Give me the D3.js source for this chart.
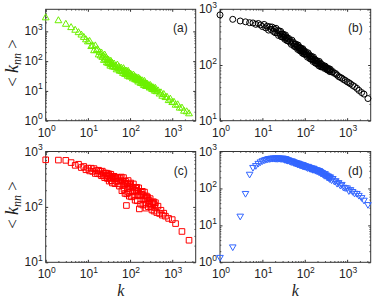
<!DOCTYPE html>
<html>
<head>
<meta charset="utf-8">
<script src="https://cdn.jsdelivr.net/npm/d3@7"></script>
<style>
  body { margin: 0; background: #fff; }
  svg { display: block; }
  text { font-family: "Liberation Sans", Arial, sans-serif; fill: #222; }
</style>
</head>
<body>
<div id="chart"></div>
<script>
// degree k shared by the four panels (null = no point at that k)
const degrees = [1,2,3,4,5,6,7,8,9,10, 11,12,13,14,15,16,17,18,19,20,
  21,22,23,24,25,26,27,28,29,30, 31,32,33,34,35,36,37,38,39,40,
  42,44,46,48,50,52,54,56,58,60, 62,64,66,68,70,72,74,76,78,80,
  82,84,86,88,90,92,94,96,98,100,
  104,108,112,116,120,124,128,132,136,140,144,148,152,156,160,
  166,172,178,184,190,196,202,208,214,220,226,232,238,244,250,
  260,270,280,290,300,310,320,330,340,350,360,370,380,390,400,
  430,460,500,540,580,630,690,750,820,900,
  1000,1100,1200,1350,1500,1700,1900,2200,2500,3100];

const knnA = [3000,2400,1820,1410,1150,955,794,661,550,468,
  484,326,344,236,343,238,258,171,209,157,
  198,141,157,112,169,122,136,93,117,90,
  113,86,94,72,105,81,91,68,83,68,
  84,64,71,54,78,60,67,49,60,49,
  61,47,53,41,59,46,51,38,47,38,
  48,37,42,33,48,37,42,31,39,32,
  38,31,34,27,36,29,32,25,29,25,29,24,26,21,28,
  23,25,19,23,19,23,18,20,16,22,18,19,15,18,15,
  17.5,14.8,15.6,13.2,16.2,13.7,14.5,12,13.4,11.7,13.4,11.4,12.1,10.3,12.8,
  9.9,10.6,8.3,9.1,7.0,8.0,6.3,6.5,5.0,5.6,
  4.3,4.4,3.5,3.6,2.8,2.8,2.2,2.1,1.8,null];

const knnB = [794,661,617,596,575,569,537,556,525,490,
  535,463,497,423,486,436,480,402,443,380,
  456,379,416,339,408,357,403,321,362,318,
  358,314,330,289,346,303,319,274,302,272,
  299,259,270,235,279,243,255,217,238,213,
  237,207,218,191,228,200,210,181,200,179,
  200,176,186,163,196,173,182,157,174,157,
  174,151,158,138,165,144,152,130,143,128,143,125,132,116,139,
  121,127,108,119,107,119,104,110,97,116,102,108,93,103,93,
  101,92,95,87,96,89,91,83,87,81,87,80,82,76,84,
  75,76,71,70,66,62,60,58,55,53,
  50,48,46,43,41,38,35,32,30,25];

const knnC = [708,700,692,631,562,589,513,537,468,501,
  446,500,437,491,401,453,397,459,394,437,
  365,442,370,409,336,407,358,406,326,370,
  397,292,361,326,388,297,334,270,353,338,
  357,262,322,289,343,261,294,237,333,306,
  346,196,292,243,338,206,258,175,289,267,
  106,172,258,214,299,182,230,156,259,239,
  270,152,226,187,260,157,197,132,218,200,226,129,191,159,221,
  92,167,112,184,169,191,108,160,133,185,112,141,95,157,145,
  150,101,131,114,141,100,116,88,122,115,124,84,110,96,119,
  79,103,76,87,71,77,68,null,62,null,
  59,null,50,null,null,36,null,null,25,null];

const knnD = [1.3,2.5,17,70,232,355,398,457,501,537,
  562,582,596,617,610,631,624,638,624,638,
  617,646,617,638,624,631,617,631,610,624,
  634,603,612,577,617,582,593,555,575,548,
  566,531,536,504,535,504,509,475,491,465,
  482,455,461,436,466,440,447,419,434,414,
  432,407,415,393,421,398,406,381,395,378,
  394,367,374,348,379,353,361,333,349,329,347,324,331,310,338,
  314,321,295,309,290,306,286,292,271,293,271,276,252,264,247,
  259,233,239,215,241,217,223,198,210,193,207,187,193,175,197,
  163,178,150,155,131,138,117,123,103,100,
  99,83,89,79,71,70,62,54,46,35];

const xDomain = [1, 3600];
const xMajor = [1, 10, 100, 1000];
const panelLetters = ["(a)", "(b)", "(c)", "(d)"];

const W = 374, H = 301;
const cols = [{ left: 45.7, right: 195.7 }, { left: 220, right: 370.7 }];
const rows = [{ top: 9.3, bottom: 120.7 }, { top: 151.5, bottom: 262.3 }];

const panels = [
  { values: knnA, yDomain: [1, 5500], yMajor: [1, 10, 100, 1000], shape: "up", color: "#6cf000", col: 0, row: 0 },
  { values: knnB, yDomain: [10, 1000], yMajor: [10, 100, 1000], shape: "circle", color: "#000", col: 1, row: 0 },
  { values: knnC, yDomain: [10, 1000], yMajor: [10, 100, 1000], shape: "square", color: "#ff0000", col: 0, row: 1 },
  { values: knnD, yDomain: [1, 1000], yMajor: [1, 10, 100, 1000], shape: "down", color: "#3366ff", col: 1, row: 1 }
];

const markerPath = {
  up: "M0,-3.3L3.4,2.7L-3.4,2.7Z",
  down: "M0,3L3.3,-2.7L-3.3,-2.7Z",
  square: "M-2.8,-2.8h5.6v5.6h-5.6Z"
};

function minorTicks(domain) {
  let out = [];
  for (let p = 1; p <= 10000; p *= 10) {
    for (let m = 2; m <= 9; m++) {
      let v = m * p;
      if (v > domain[0] && v < domain[1]) out.push(v);
    }
  }
  return out;
}

function powLabel(sel, v, x, y, anchor) {
  let t = sel.append("text")
    .attr("x", x).attr("y", y)
    .attr("text-anchor", anchor)
    .attr("font-size", 12);
  t.append("tspan").text("10");
  t.append("tspan").text(Math.round(Math.log10(v)))
    .attr("font-size", 8.5).attr("dy", -5.5);
}

const svg = d3.select("#chart").append("svg")
  .attr("width", W).attr("height", H);

panels.forEach((p, i) => {
  let c = cols[p.col], r = rows[p.row];
  let x = d3.scaleLog().domain(xDomain).range([c.left, c.right]);
  let y = d3.scaleLog().domain(p.yDomain).range([r.bottom, r.top]);

  let g = svg.append("g");

  // ticks on all four sides, pointing in
  let axes = [
    [d3.axisBottom(x), r.bottom, "x"], [d3.axisTop(x), r.top, "x"],
    [d3.axisLeft(y), c.left, "y"], [d3.axisRight(y), c.right, "y"]
  ];
  axes.forEach(([ax, pos, dim]) => {
    let major = dim === "x" ? xMajor : p.yMajor;
    let minor = minorTicks(dim === "x" ? xDomain : p.yDomain);
    let tr = dim === "x" ? `translate(0,${pos})` : `translate(${pos},0)`;
    g.append("g").attr("transform", tr)
      .call(ax.tickValues(major).tickSize(-2.5).tickFormat(""))
      .call(s => s.select(".domain").remove())
      .selectAll("line").attr("stroke", "#333");
    g.append("g").attr("transform", tr)
      .call(ax.tickValues(minor).tickSize(-1.3).tickFormat(""))
      .call(s => s.select(".domain").remove())
      .selectAll("line").attr("stroke", "#555");
  });

  g.append("rect")
    .attr("x", c.left).attr("y", r.top)
    .attr("width", c.right - c.left).attr("height", r.bottom - r.top)
    .attr("fill", "none").attr("stroke", "#333").attr("stroke-width", 1);

  xMajor.forEach(v => powLabel(g, v, x(v) + 1, r.bottom + 16, "middle"));
  p.yMajor.forEach(v => powLabel(g, v, c.left - 3, y(v) + 4, "end"));

  let pts = degrees.map((k, j) => ({ k: k, v: p.values[j] })).filter(d => d.v != null);

  let marks = g.append("g")
    .attr("fill", "none").attr("stroke", p.color).attr("stroke-width", 1);
  if (p.shape === "circle") {
    marks.selectAll("circle").data(pts).enter().append("circle")
      .attr("cx", d => x(d.k)).attr("cy", d => y(d.v)).attr("r", 3);
  } else {
    marks.selectAll("path").data(pts).enter().append("path")
      .attr("d", markerPath[p.shape])
      .attr("transform", d => `translate(${x(d.k)},${y(d.v)})`);
  }

  g.append("text")
    .attr("x", c.right - 8).attr("y", r.top + 23)
    .attr("text-anchor", "end").attr("font-size", 12)
    .text(panelLetters[i]);

  if (p.col === 0) {
    let cy = (r.top + r.bottom) / 2 - 2;
    let yl = g.append("text")
      .attr("transform", `translate(18,${cy}) rotate(-90)`)
      .attr("text-anchor", "middle")
      .style("font-family", "'Liberation Serif', 'Times New Roman', serif");
    yl.append("tspan").text("< ").attr("font-size", 17);
    yl.append("tspan").text("k").attr("font-size", 18).style("font-style", "italic");
    yl.append("tspan").text("nn").attr("font-size", 12).attr("dy", 3).style("font-style", "italic");
    yl.append("tspan").text(" >").attr("font-size", 17).attr("dy", -3);
  }
  if (p.row === 1) {
    g.append("text")
      .attr("x", (c.left + c.right) / 2).attr("y", 296)
      .attr("text-anchor", "middle").attr("font-size", 16)
      .style("font-family", "'Liberation Serif', 'Times New Roman', serif")
      .style("font-style", "italic")
      .text("k");
  }
});
</script>
</body>
</html>
